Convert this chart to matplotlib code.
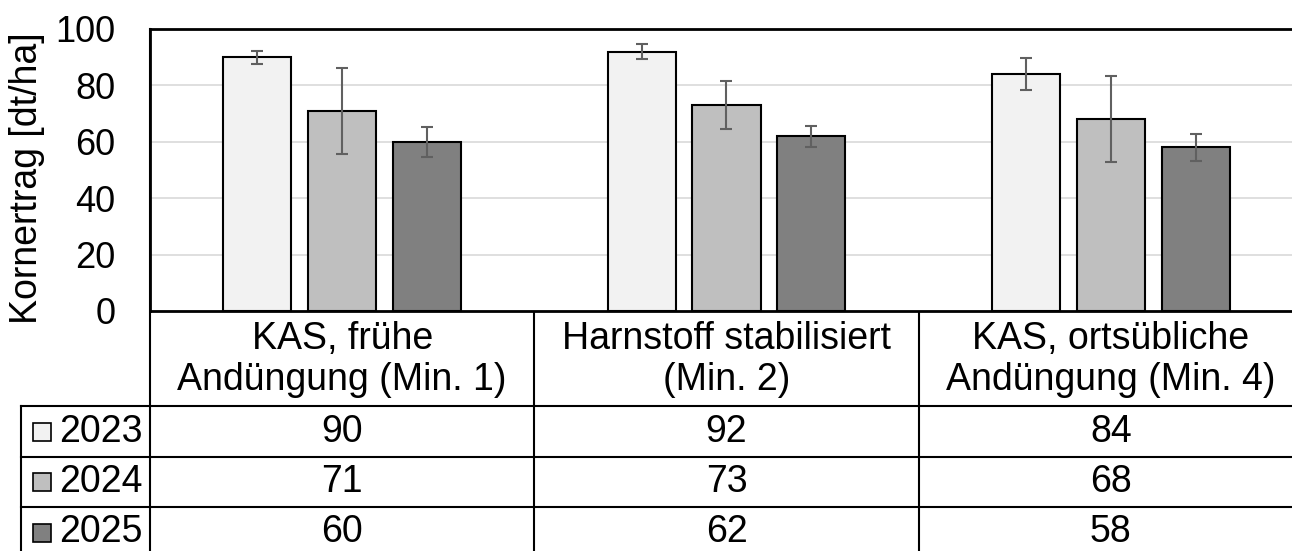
import matplotlib.pyplot as plt
from matplotlib.patches import Rectangle

# data
categories = [
    "KAS, frühe\nAndüngung (Min. 1)",
    "Harnstoff stabilisiert\n(Min. 2)",
    "KAS, ortsübliche\nAndüngung (Min. 4)",
]
years = ["2023", "2024", "2025"]
yield_2023 = [90, 92, 84]
yield_2024 = [71, 73, 68]
yield_2025 = [60, 62, 58]
err_2023 = [2.3, 2.7, 5.6]
err_2024 = [15.2, 8.5, 15.2]
err_2025 = [5.3, 3.7, 4.7]
colors = ["#f2f2f2", "#bfbfbf", "#808080"]

series = [yield_2023, yield_2024, yield_2025]
errors = [err_2023, err_2024, err_2025]

plt.rcParams["font.family"] = ["Liberation Sans", "DejaVu Sans"]
FS = 27

W, H = 1292, 551
fig = plt.figure(figsize=(W / 100, H / 100), dpi=100)

# plot area (extends slightly past the right edge, like the original crop)
left, right, top, bottom = 150, 1303, 29, 311
ax = fig.add_axes([left / W, 1 - bottom / H, (right - left) / W, (bottom - top) / H])

bar_w = 0.177
step = 0.221
centers = [i + 0.5 for i in range(len(categories))]
for k, (vals, errs, col) in enumerate(zip(series, errors, colors)):
    xs = [c + (k - 1) * step for c in centers]
    ax.bar(xs, vals, width=bar_w, color=col, edgecolor="black", linewidth=1.5, zorder=3)
    ax.errorbar(xs, vals, yerr=errs, fmt="none", ecolor="#606060",
                elinewidth=1.5, capsize=4.5, capthick=1.5, zorder=4)

ax.set_xlim(0, len(categories))
ax.set_ylim(0, 100)
ax.set_yticks(range(0, 101, 20))
ax.tick_params(axis="y", length=0, pad=25, labelsize=26)
ax.set_xticks([])
ax.grid(axis="y", color="#d9d9d9", linewidth=1.2, zorder=0)
ax.spines["right"].set_visible(False)
for s in ("top", "left", "bottom"):
    ax.spines[s].set_linewidth(2)
ax.set_ylabel("Kornertrag [dt/ha]", fontsize=FS)
ax.yaxis.set_label_coords(-105 / (right - left), 0.47)

# data table below the chart, drawn in pixel coordinates
tb = fig.add_axes([0, 0, 1, 1], zorder=-1)
tb.set_xlim(0, W)
tb.set_ylim(H, 0)
tb.axis("off")

col_edges = [left + i * (right - left) / 3 for i in range(4)]
header_bottom = 406
row_lines = [406, 457, 507, 558]
lw = 1.5

tb.plot([left, left], [top, H + 5], color="black", lw=lw)
for x in col_edges[1:3]:
    tb.plot([x, x], [bottom, H + 5], color="black", lw=lw)
tb.plot([21, 21], [header_bottom, H + 5], color="black", lw=lw)
for y in row_lines[:3]:
    tb.plot([21, W + 5], [y, y], color="black", lw=lw)

for i, cat in enumerate(categories):
    cx = (col_edges[i] + col_edges[i + 1]) / 2
    tb.text(cx, (bottom + header_bottom) / 2 + 1, cat, ha="center", va="center",
            fontsize=FS, linespacing=1.2)

for r, (yr, vals, col) in enumerate(zip(years, series, colors)):
    cy = (row_lines[r] + row_lines[r + 1]) / 2
    tb.add_patch(Rectangle((33, cy - 9), 18, 18, facecolor=col, edgecolor="black", lw=1.2))
    tb.text(59, cy, yr, ha="left", va="center", fontsize=FS)
    for i, v in enumerate(vals):
        cx = (col_edges[i] + col_edges[i + 1]) / 2
        tb.text(cx, cy, str(v), ha="center", va="center", fontsize=FS)

fig.savefig("out.png", dpi=100)
